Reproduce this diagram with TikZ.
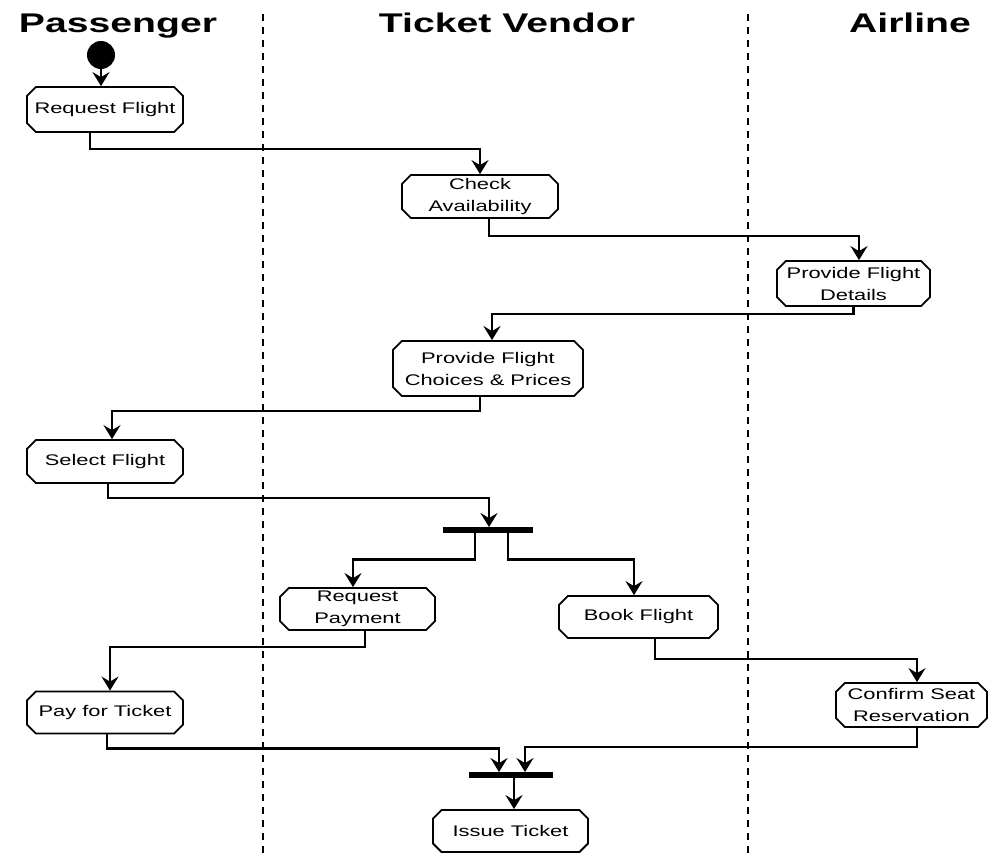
\documentclass[tikz,border=0pt]{standalone}
\usepackage{fontspec}
\usepackage{tikz}
\usetikzlibrary{arrows.meta,shapes.misc}
\newfontfamily\lanefont{Liberation Sans}[FakeStretch=1.45]
\newfontfamily\actfont{Liberation Sans}[FakeStretch=1.42]
\newcommand{\figunit}{1pt}

\begin{document}
\begin{tikzpicture}[x=\figunit,y=-\figunit,
	act/.style={draw, line width=1.8pt, chamfered rectangle, chamfered rectangle xsep=6pt,
		inner sep=0pt, align=center, font=\actfont\fontsize{15.4}{22}\selectfont},
	flow/.style={line width=2.2pt, -{Stealth[length=14pt,width=17pt,inset=5pt]}},
	bar/.style={fill, inner sep=0pt, minimum height=5.5pt},
	lane/.style={anchor=base, font=\lanefont\bfseries\fontsize{27}{30}\selectfont},
	lanesep/.style={line width=2pt, dash pattern=on 7pt off 6pt}]
	\useasboundingbox (0,0) rectangle (992,856);

	\node [lane] (passenger) at (118,33) {Passenger};
	\node [lane] (vendor) at (507,33) {Ticket Vendor};
	\node [lane] (airline) at (910,33) {Airline};
	\draw [lanesep] (263,14) -- (263,856);
	\draw [lanesep] (748,14) -- (748,856);

	\node [circle, fill, inner sep=0pt, minimum size=28pt] (start) at (101,55) {};
	\node [act, minimum width=156pt, minimum height=45pt] (request) at (105,109.5) {Request Flight};
	\node [act, minimum width=156pt, minimum height=43pt] (check) at (480,196.5) {Check\\Availability};
	\node [act, minimum width=153pt, minimum height=45pt] (details) at (853.5,283.5) {Provide Flight\\Details};
	\node [act, minimum width=190pt, minimum height=55pt] (choices) at (488,368.5) {Provide Flight\\Choices \& Prices};
	\node [act, minimum width=156pt, minimum height=43pt] (select) at (105,461.5) {Select Flight};
	\node [bar, minimum width=90pt] (fork) at (488,530) {};
	\node [act, minimum width=155pt, minimum height=42pt] (payreq) at (357.5,609) {Request\\Payment};
	\node [act, minimum width=159pt, minimum height=42pt] (book) at (638.5,617) {Book Flight};
	\node [act, minimum width=156pt, minimum height=42pt] (pay) at (105,712.5) {Pay for Ticket};
	\node [act, minimum width=151pt, minimum height=44pt] (confirm) at (911.5,705) {Confirm Seat\\Reservation};
	\node [bar, minimum width=84pt] (join) at (511,775) {};
	\node [act, minimum width=155pt, minimum height=42pt] (issue) at (510.5,831) {Issue Ticket};

	\draw [flow] (start.south) -- (start.south |- request.north);
	\draw [flow] ([xshift=-15pt]request.south) -- ++(0,16) -| (check.north);
	\draw [flow] ([xshift=9pt]check.south) -- ++(0,17) -| ([xshift=5.5pt]details.north);
	\draw [flow] (details.south) -- ++(0,7) -| ([xshift=4pt]choices.north);
	\draw [flow] ([xshift=-8pt]choices.south) -- ++(0,14) -| ([xshift=7pt]select.north);
	\draw [flow] ([xshift=3pt]select.south) -- ++(0,14) -| ([xshift=1pt]fork.north);
	\draw [flow] ([xshift=-13pt]fork.south) -- ++(0,26.5) -| ([xshift=-4.5pt]payreq.north);
	\draw [flow] ([xshift=20pt]fork.south) -- ++(0,26.5) -| ([xshift=-4.5pt]book.north);
	\draw [flow] ([xshift=7.5pt]payreq.south) -- ++(0,16) -| ([xshift=5pt]pay.north);
	\draw [flow] ([xshift=16.5pt]book.south) -- ++(0,20) -| ([xshift=5.5pt]confirm.north);
	\draw [flow] ([xshift=2pt]pay.south) -- ++(0,14) -| ([xshift=-12pt]join.north);
	\draw [flow] ([xshift=5.5pt]confirm.south) -- ++(0,19) -| ([xshift=14pt]join.north);
	\draw [flow] ([xshift=3pt]join.south) -- ([xshift=3pt]join.south |- issue.north);
\end{tikzpicture}
\end{document}
